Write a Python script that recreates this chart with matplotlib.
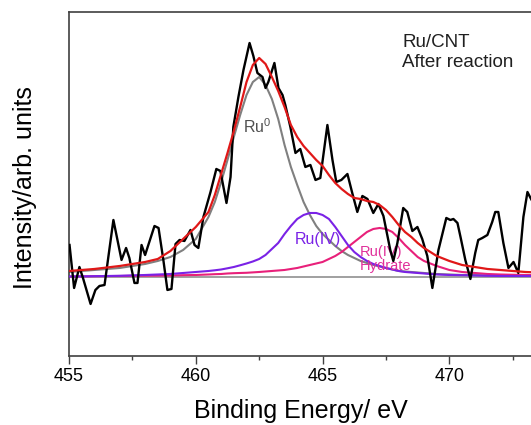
import numpy as np
import matplotlib.pyplot as plt

plt.rcParams['font.family'] = ['Liberation Sans', 'DejaVu Sans']
plt.rcParams['mathtext.fontset'] = 'custom'
plt.rcParams['mathtext.rm'] = 'Liberation Sans'

# raw spectrum (binding energy in eV, intensity in arb. units above baseline)
raw_e = [455.02, 455.20, 455.41, 455.55, 455.85, 456.04, 456.20, 456.40, 456.75, 457.07,
         457.25, 457.38, 457.58, 457.70, 457.86, 458.00, 458.37, 458.53, 458.72, 458.88,
         459.04, 459.20, 459.36, 459.55, 459.79, 459.95, 460.10, 460.30, 460.58, 460.81,
         460.97, 461.21, 461.37, 461.48, 461.68, 461.88, 462.12, 462.27, 462.43, 462.63,
         462.75, 462.86, 463.10, 463.26, 463.42, 463.53, 463.73, 463.93, 464.12, 464.32,
         464.52, 464.72, 464.91, 465.19, 465.39, 465.54, 465.74, 465.98, 466.17, 466.37,
         466.57, 466.77, 467.00, 467.20, 467.40, 467.67, 467.79, 467.95, 468.18, 468.34,
         468.54, 468.74, 468.93, 469.13, 469.33, 469.57, 469.88, 470.04, 470.16, 470.32,
         470.44, 470.63, 470.83, 471.02, 471.14, 471.30, 471.50, 471.69, 471.81, 471.93,
         472.13, 472.33, 472.53, 472.72, 472.92, 473.08, 473.20, 473.40]
raw_i = [32, -11, 10, -1, -27, -13, -9, -8, 57, 17,
         29, 19, -6, -6, 32, 22, 51, 49, 17, -13,
         -12, 33, 37, 36, 47, 32, 29, 60, 85, 108,
         106, 74, 100, 150, 180, 207, 234, 221, 204, 200,
         189, 195, 214, 189, 182, 172, 150, 124, 128, 110,
         112, 97, 99, 152, 117, 95, 97, 103, 84, 65,
         81, 78, 64, 73, 61, 27, 16, 34, 69, 65,
         46, 50, 38, 21, -11, 27, 59, 57, 58, 54,
         40, 17, -2, 24, 37, 39, 42, 55, 65, 65,
         34, 9, 15, 4, 60, 85, 79, 70]

# fitted components on a common energy grid
fit_e = [455.0, 455.5, 456.0, 456.5, 457.0, 457.5, 458.0, 458.5, 459.0, 459.5,
         460.0, 460.5, 460.75, 461.0, 461.25, 461.5, 461.75, 462.0, 462.25, 462.5,
         462.75, 463.0, 463.25, 463.5, 463.75, 464.0, 464.25, 464.5, 464.75, 465.0,
         465.25, 465.5, 465.75, 466.0, 466.25, 466.5, 466.75, 467.0, 467.25, 467.5,
         467.75, 468.0, 468.25, 468.5, 468.75, 469.0, 469.5, 470.0, 470.5, 471.0,
         471.5, 472.0, 472.5, 473.0, 473.5, 474.0, 474.5, 475.0]
ru0 = [5, 6, 7, 8, 9, 11, 13, 16, 20, 27,
       38, 60, 75, 95, 117, 140, 162, 182, 195, 200,
       192, 178, 158, 132, 110, 92, 75, 62, 51, 43,
       37, 31, 26, 22, 19, 16, 14, 12, 10.5, 9,
       7.5, 6, 5.5, 5, 4.5, 4, 3, 2.5, 2, 2,
       1.5, 1.5, 1, 1, 1, 1, 1, 1]
ru4 = [0.5, 0.6, 0.8, 1.0, 1.2, 1.6, 2, 2.5, 3, 4,
       5, 6, 6.7, 7.5, 8.7, 10, 11.7, 13.5, 15.5, 18,
       22, 28, 34, 43, 51, 58, 62, 64, 64, 62,
       58, 50, 41, 32, 25, 20, 16, 13, 11, 9,
       7.5, 6, 5, 4.5, 4, 3.5, 2.5, 2, 1.8, 1.5,
       1.2, 1, 1, 1, 1, 1, 1, 1]
ru4_hyd = [0.5, 0.6, 0.8, 0.9, 1, 1.2, 1.3, 1.4, 1.5, 1.8,
           2, 2.5, 2.8, 3, 3.5, 3.8, 4, 4.2, 4.6, 5,
           5.5, 6, 6.5, 7, 8, 9, 10.5, 12, 13.5, 15,
           18, 21, 25, 30, 35, 40, 45, 48, 49, 48,
           45, 39, 32, 26, 20, 16, 11, 7, 5, 4,
           3, 2.5, 2.2, 2, 1.8, 1.5, 1.2, 1]
envelope = [6, 7, 8, 9.5, 11, 13, 15, 18, 26, 38,
            50, 65, 82, 103, 124, 146, 170, 195, 212, 219,
            213, 200, 186, 170, 152, 140, 131, 124, 117, 111,
            102, 94, 88, 83, 79, 78, 76, 75, 72, 67,
            60, 52, 45, 40, 34, 29, 21, 16, 12, 10,
            8, 7, 6, 5, 4.5, 4, 4, 4]

fig = plt.figure(figsize=(5.31, 4.25), dpi=100)
ax = fig.add_axes([0.130, 0.1624, 0.955, 0.8094])

ax.axhline(0, color='#909090', lw=1.2, zorder=1)
ax.plot(fit_e, ru0, color='#808080', lw=1.5, zorder=2)
ax.plot(fit_e, ru4_hyd, color='#e8207a', lw=1.5, zorder=2)
ax.plot(fit_e, ru4, color='#7a22e6', lw=1.5, zorder=3)
ax.plot(raw_e, raw_i, color='black', lw=1.7, zorder=4)
ax.plot(fit_e, envelope, color='#e01818', lw=1.6, zorder=5)

ax.text(461.85, 150, r'Ru$^{\mathrm{0}}$', color='#505050', fontsize=11.5,
        ha='left', va='center')
ax.text(464.8, 37, 'Ru(IV)', color='#7a22e6', fontsize=11.5, ha='center', va='center')
ax.text(466.45, 18, 'Ru(IV)\nHydrate', color='#e0309a', fontsize=10.5,
        ha='left', va='center', linespacing=1.0)
ax.text(468.15, 243, 'Ru/CNT\nAfter reaction', color='#202020', fontsize=13.5,
        ha='left', va='top', linespacing=1.25)

ax.set_xlim(455, 475)
ax.set_ylim(-79, 265)
ax.set_xticks([455, 460, 465, 470])
ax.set_xticks(np.arange(457.5, 475, 5), minor=True)
ax.set_yticks([])
ax.tick_params(axis='x', which='major', length=6, width=1, direction='out',
               labelsize=13, pad=3, color='#404040')
ax.tick_params(axis='x', which='minor', length=3, width=1, direction='out',
               color='#404040')
for sp in ax.spines.values():
    sp.set_color('#404040')
    sp.set_linewidth(1.2)

ax.set_xlabel('Binding Energy/ eV', fontsize=18)
ax.xaxis.set_label_coords(0.458, -0.125)
ax.set_ylabel('Intensity/arb. units', fontsize=18)
ax.yaxis.set_label_coords(-0.063, 0.49)

fig.savefig('out.png', dpi=100)
